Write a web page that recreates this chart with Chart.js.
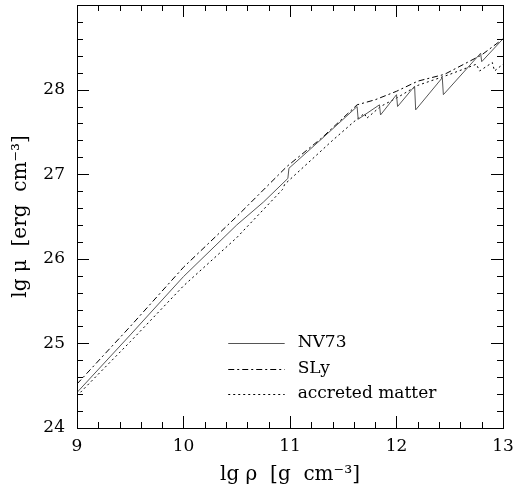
<!DOCTYPE html>
<html>
<head>
<meta charset="utf-8">
<script src="https://cdn.jsdelivr.net/npm/chart.js@4"></script>
<style>
  html, body { margin: 0; padding: 0; background: #fff; }
  #wrap { width: 514px; height: 488px; }
</style>
</head>
<body>
<div id="wrap"><canvas id="myChart" width="514" height="488"></canvas></div>
<script>
// lg rho, lg mu pairs
const nv73X = [9, 9.5, 10, 10.5, 10.75, 10.98, 10.99, 11.3, 11.63, 11.64, 11.84, 11.85, 12.0, 12.01, 12.17, 12.18, 12.43, 12.44, 12.79, 12.8, 13];
const nv73Y = [24.42, 25.1, 25.79, 26.4, 26.67, 26.95, 27.07, 27.42, 27.8, 27.65, 27.82, 27.7, 27.94, 27.8, 28.04, 27.76, 28.14, 27.94, 28.43, 28.33, 28.6];

const slyX = [9, 9.5, 10, 10.5, 10.97, 11.3, 11.63, 11.8, 12.0, 12.2, 12.45, 12.8, 13];
const slyY = [24.52, 25.2, 25.9, 26.5, 27.09, 27.43, 27.82, 27.88, 27.98, 28.1, 28.18, 28.41, 28.6];

const accX = [9, 9.5, 10, 10.5, 10.93, 10.95, 11.4, 11.6, 11.7, 11.72, 11.85, 12.0, 12.2, 12.5, 12.75, 12.78, 12.9, 12.92, 13];
const accY = [24.38, 25.02, 25.68, 26.25, 26.82, 26.88, 27.4, 27.62, 27.72, 27.66, 27.8, 27.9, 28.05, 28.18, 28.3, 28.22, 28.32, 28.22, 28.3];

const xTicks = [9, 10, 11, 12, 13];
const yTicks = [24, 25, 26, 27, 28];
const seriesNames = ["NV73", "SLy", "accreted matter"];

const pts = (xs, ys) => xs.map((x, i) => ({ x: x, y: ys[i] }));
const serif = "'DejaVu Serif', 'Liberation Serif', serif";

// inward ticks on all four sides, plus the frame and the legend
const frame = {
    id: "frame",
    afterDatasetsDraw(chart) {
        const { ctx, chartArea: a, scales: { x, y } } = chart;
        ctx.save();
        ctx.strokeStyle = "#000";
        ctx.lineWidth = 1;
        ctx.beginPath();
        for (let v = x.min; v <= x.max + 1e-9; v += 0.2) {
            const px = Math.round(x.getPixelForValue(v)) + 0.5;
            const major = Math.abs(v - Math.round(v)) < 1e-6;
            const len = major ? 12 : 6;
            ctx.moveTo(px, a.bottom); ctx.lineTo(px, a.bottom - len);
            ctx.moveTo(px, a.top); ctx.lineTo(px, a.top + len);
        }
        for (let v = y.min; v <= y.max + 1e-9; v += 0.2) {
            const py = Math.round(y.getPixelForValue(v)) + 0.5;
            const major = Math.abs(v - Math.round(v)) < 1e-6;
            const len = major ? 12 : 6;
            ctx.moveTo(a.left, py); ctx.lineTo(a.left + len, py);
            ctx.moveTo(a.right, py); ctx.lineTo(a.right - len, py);
        }
        ctx.stroke();
        ctx.strokeRect(Math.round(a.left) + 0.5, Math.round(a.top) + 0.5,
            Math.round(a.right - a.left), Math.round(a.bottom - a.top));

        const lx0 = x.getPixelForValue(10.42), lx1 = x.getPixelForValue(10.95);
        const rows = [343, 369, 394];
        ctx.font = "17px " + serif;
        ctx.textBaseline = "middle";
        ctx.fillStyle = "#000";
        chart.data.datasets.forEach((ds, i) => {
            ctx.beginPath();
            ctx.strokeStyle = ds.borderColor;
            ctx.lineWidth = ds.borderWidth;
            ctx.setLineDash(ds.borderDash || []);
            ctx.moveTo(lx0, rows[i] + 0.5);
            ctx.lineTo(lx1, rows[i] + 0.5);
            ctx.stroke();
            ctx.setLineDash([]);
            ctx.fillText(seriesNames[i], lx1 + 13, rows[i]);
        });
        ctx.restore();
    }
};

const ctx = document.getElementById("myChart").getContext("2d");
new Chart(ctx, {
    type: "scatter",
    data: {
        datasets: [{
            label: seriesNames[0],
            data: pts(nv73X, nv73Y),
            showLine: true,
            borderColor: "#555",
            borderWidth: 1,
            pointRadius: 0,
            tension: 0
        }, {
            label: seriesNames[1],
            data: pts(slyX, slyY),
            showLine: true,
            borderColor: "#000",
            borderWidth: 1,
            borderDash: [6, 3, 2, 3],
            pointRadius: 0,
            tension: 0
        }, {
            label: seriesNames[2],
            data: pts(accX, accY),
            showLine: true,
            borderColor: "#000",
            borderWidth: 1,
            borderDash: [2, 3],
            pointRadius: 0,
            tension: 0
        }]
    },
    options: {
        responsive: false,
        animation: false,
        layout: { padding: { top: 5, right: 11, left: 0, bottom: 0 } },
        plugins: {
            legend: { display: false },
            tooltip: { enabled: false }
        },
        scales: {
            x: {
                type: "linear",
                min: 9,
                max: 13,
                afterBuildTicks: s => { s.ticks = xTicks.map(v => ({ value: v })); },
                afterFit: s => { s.height = 60; s.paddingLeft = 0; s.paddingRight = 0; },
                grid: { display: false, drawTicks: false },
                border: { display: false },
                ticks: { color: "#000", padding: 8, font: { family: serif, size: 17 } },
                title: {
                    display: true,
                    text: "lg ρ  [g  cm⁻³]",
                    color: "#000",
                    padding: { top: 0, bottom: 1 },
                    font: { family: serif, size: 20 }
                }
            },
            y: {
                type: "linear",
                min: 24,
                max: 29,
                afterBuildTicks: s => { s.ticks = yTicks.map(v => ({ value: v })); },
                afterFit: s => { s.width = 77; s.paddingTop = 0; s.paddingBottom = 0; },
                grid: { display: false, drawTicks: false },
                border: { display: false },
                ticks: { color: "#000", padding: 12, font: { family: serif, size: 17 } },
                title: {
                    display: true,
                    text: "lg μ  [erg  cm⁻³]",
                    color: "#000",
                    padding: { top: 9, bottom: 0 },
                    font: { family: serif, size: 20 }
                }
            }
        }
    },
    plugins: [frame]
});
</script>
</body>
</html>
